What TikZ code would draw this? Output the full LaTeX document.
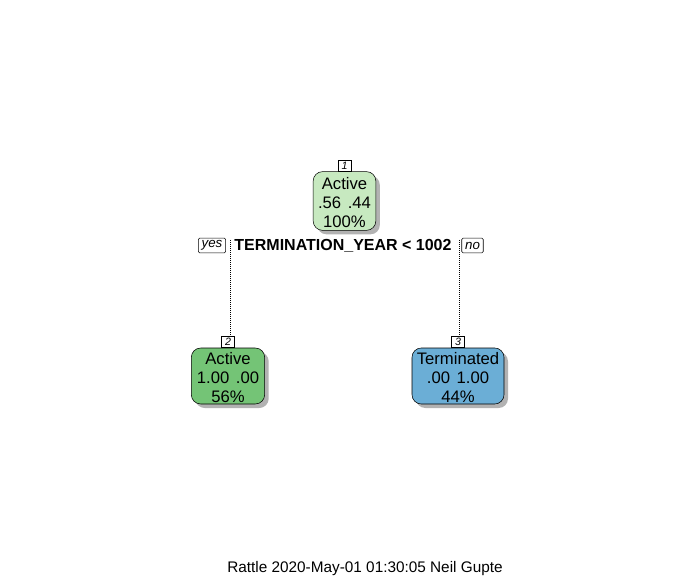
\documentclass[tikz,border=0pt]{standalone}
\usepackage{fontspec}
\setmainfont{Liberation Sans}
\usetikzlibrary{shadows}
\definecolor{rootfill}{RGB}{199,233,192}
\definecolor{leafgreen}{RGB}{116,196,118}
\definecolor{leafblue}{RGB}{107,174,214}
\newcommand{\topstrut}{\rule{0pt}{12pt}}
\tikzset{
  px/.style={x=0.75pt,y=-0.75pt},
  treenode/.style={draw=black, rounded corners=7pt, inner sep=0pt, align=center,
    font=\fontsize{12.5}{14.25}\selectfont, drop shadow={shadow xshift=3pt, shadow yshift=-3pt, fill=black!30, opacity=1}},
  numbox/.style={draw=black, fill=white, inner sep=1pt, minimum width=9.5pt, minimum height=8.5pt, font=\fontsize{8}{8}\itshape},
  yesno/.style={draw=black, fill=white, inner xsep=2.5pt, inner ysep=1.5pt, minimum height=11pt, font=\fontsize{10}{11}\selectfont\itshape, rounded corners=1pt},
  dotline/.style={densely dotted, line width=0.5pt}
}
\begin{document}
\begin{tikzpicture}[px]
\useasboundingbox (0,0) rectangle (691,580);
% root
\node[treenode, fill=rootfill, minimum width=47pt, minimum height=44pt] (n1) at (344.5,201) {\topstrut Active\\.56\hspace{0.4em}.44\\100\%};
\node[numbox, anchor=south] (l1) at (n1.north) {1};
% split
\node[font=\fontsize{12}{13}\selectfont\bfseries] (split) at (343,246) {TERMINATION\_YEAR < 1002};
\node[yesno] (yes) at (212,245.5) {yes};
\node[yesno] (no) at (472.5,245.5) {no};
% leaves
\node[treenode, fill=leafgreen, minimum width=55pt, minimum height=42pt] (n2) at (228,376) {\topstrut Active\\1.00\hspace{0.4em}.00\\56\%};
\node[numbox, anchor=south] (l2) at (n2.north) {2};
\node[treenode, fill=leafblue, minimum width=69pt, minimum height=42pt] (n3) at (458,376) {\topstrut Terminated\\.00\hspace{0.4em}1.00\\44\%};
\node[numbox, anchor=south] (l3) at (n3.north) {3};
% connectors
\coordinate (ly) at (230,240);
\coordinate (ry) at (459,240);
\draw[dotline] (ly) -- (ly |- l2.north);
\draw[dotline] (ry) -- (ry |- l3.north);
% footer
\node[font=\fontsize{11.5}{13}\selectfont] (foot) at (365,569) {Rattle 2020-May-01 01:30:05 Neil Gupte};
\end{tikzpicture}
\end{document}
